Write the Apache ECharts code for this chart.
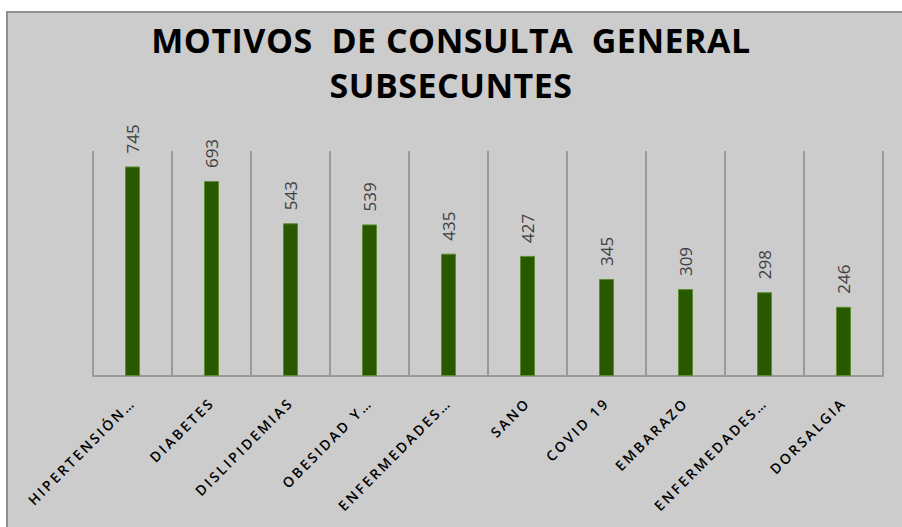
<!DOCTYPE html>
<html>
<head>
<meta charset="utf-8">
<script src="https://cdn.jsdelivr.net/npm/echarts@6/dist/echarts.min.js"></script>
<style>
  html, body { margin: 0; padding: 0; background: #ffffff; }
  .frame {
    position: absolute;
    left: 6px; top: 11px; right: 0; bottom: 0;
    background: #cccccc;
    border-left: 2px solid #8f8f8f;
    border-top: 2px solid #8f8f8f;
  }
  #chart { position: absolute; left: 0; top: 0; width: 902px; height: 527px; }
</style>
</head>
<body>
<div class="frame"></div>
<div id="chart"></div>
<script>
// categorias (tal como aparecen, ya recortadas)
const categorias = [
  'HIPERTENSIÓN…', 'DIABETES', 'DISLIPIDEMIAS', 'OBESIDAD Y…', 'ENFERMEDADES…',
  'SANO', 'COVID 19', 'EMBARAZO', 'ENFERMEDADES…', 'DORSALGIA'
]
// numero de consultas subsecuentes
const consultas = [745, 693, 543, 539, 435, 427, 345, 309, 298, 246]

const tituloLineas = ['MOTIVOS  DE CONSULTA  GENERAL', 'SUBSECUNTES']

const chart = echarts.init(document.getElementById('chart'), null, { renderer: 'svg' })

const option = {
  backgroundColor: 'transparent',
  animation: false,
  title: {
    text: tituloLineas.join('\n'),
    left: 'center',
    top: 12,
    padding: [5, 25, 5, 5],
    textStyle: {
      fontFamily: 'Open Sans',
      fontWeight: 'bold',
      fontSize: 34,
      lineHeight: 45,
      color: '#000000'
    }
  },
  grid: {
    left: 93,
    right: 19,
    top: 151,
    bottom: 151
  },
  xAxis: {
    type: 'category',
    data: categorias,
    axisLine: { lineStyle: { color: '#999999', width: 2 } },
    axisTick: { show: false },
    splitLine: { show: true, lineStyle: { color: '#999999', width: 2 } },
    axisLabel: {
      interval: 0,
      rotate: 45,
      margin: 24,
      fontFamily: 'Open Sans',
      fontWeight: 600,
      fontSize: 14,
      color: '#000000'
    }
  },
  yAxis: {
    type: 'value',
    min: 0,
    max: 800,
    show: false,
    splitLine: { show: false }
  },
  series: [{
    type: 'bar',
    data: consultas,
    barWidth: 15,
    itemStyle: {
      color: '#285800',
      borderColor: '#5d8c33',
      borderWidth: 1
    },
    label: {
      show: true,
      position: 'top',
      rotate: 90,
      align: 'left',
      verticalAlign: 'middle',
      distance: 13,
      fontFamily: 'Open Sans',
      fontSize: 17,
      color: '#404040'
    }
  }]
}

chart.setOption(option)

// espaciado de letras como en el original (solo etiquetas del eje y titulo)
function espaciarLetras() {
  document.querySelectorAll('#chart text').forEach(function (t) {
    const txt = t.textContent
    let ls = null
    if (categorias.indexOf(txt) >= 0) ls = '2.5px'
    else if (tituloLineas.indexOf(txt) >= 0) ls = '0.5px'
    if (ls) {
      t.setAttribute('letter-spacing', ls)
      t.style.letterSpacing = ls
    }
  })
}
espaciarLetras()
chart.on('finished', espaciarLetras)
</script>
</body>
</html>
